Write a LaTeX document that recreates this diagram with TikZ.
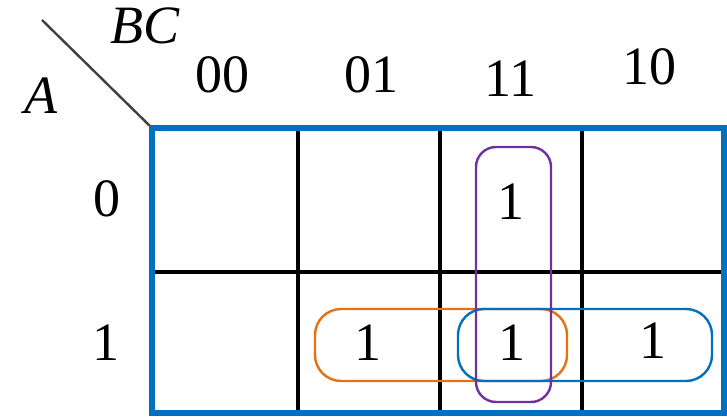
\documentclass[tikz,border=0pt]{standalone}
\usepackage{fontspec}
\setmainfont{Liberation Serif}
\usepackage{tikz}
\usetikzlibrary{positioning}
\definecolor{frameblue}{HTML}{0070C0}
\definecolor{looporange}{HTML}{E8700E}
\definecolor{looppurple}{HTML}{7030A0}
\tikzset{
  frame/.style={draw=frameblue, line width=3pt},
  gridline/.style={draw=black, line width=2pt},
  diag/.style={draw=black!75, line width=1.2pt},
  lbl/.style={inner sep=0pt, font=\fontsize{27}{30}\selectfont},
  vlbl/.style={inner sep=0pt, font=\fontsize{27}{30}\selectfont\itshape},
  one/.style={inner sep=0pt, font=\fontsize{27}{30}\selectfont},
  grp/.style={line width=1.2pt, rounded corners=13pt},
}
\begin{document}
\begin{tikzpicture}[x=0.5pt, y=-0.5pt]
\useasboundingbox (0,0) rectangle (727,417);
% corner of the map and the split line
\coordinate (corner) at (152,128);
\coordinate (diagend) at (42,20);
\draw[diag] (diagend) -- (corner);
\node[vlbl] (bc) at (145,26) {BC};
\node[vlbl] (a) at (41,96) {A};
% column and row headings
\node[lbl] (c00) at (222,75) {00};
\node[lbl] (c01) at (371,75) {01};
\node[lbl] (c11) at (510,79) {11};
\node[lbl] (c10) at (649,67) {10};
\node[lbl] (r0) at (107,199) {0};
\node[lbl] (r1) at (106,343) {1};
% grid
\draw[gridline] (298,128) -- (298,413);
\draw[gridline] (440,128) -- (440,413);
\draw[gridline] (582,128) -- (582,413);
\draw[gridline] (152,272) -- (724,272);
\draw[frame] (corner) rectangle (724,413);
% minterms
\node[one] (m3) at (511,202) {1};
\node[one] (m5) at (368,343) {1};
\node[one] (m7) at (512,343) {1};
\node[one] (m6) at (653,341) {1};
% groups
\draw[grp, looporange] (315,309) rectangle (567,381);
\draw[grp, frameblue] (458,309) rectangle (712,381);
\draw[grp, looppurple, rounded corners=10pt] (476,147) rectangle (551,402);
\end{tikzpicture}
\end{document}
